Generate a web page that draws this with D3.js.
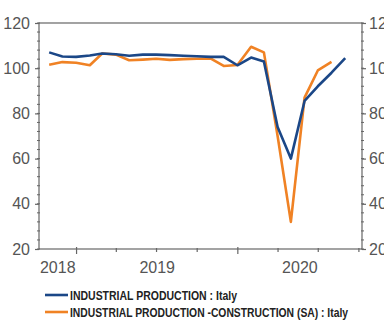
<!DOCTYPE html>
<html>
<head>
<meta charset="utf-8">
<script src="https://cdn.jsdelivr.net/npm/d3@7"></script>
<style>
  body { margin: 0; background: #fff; }
  text { font-family: "Liberation Sans Narrow", "Liberation Sans", Arial, sans-serif; }
</style>
</head>
<body>
<div id="chart"></div>
<script>
// monthly series, plotted at month end
const months = ["2018-10","2018-11","2018-12","2019-01","2019-02","2019-03","2019-04","2019-05",
  "2019-06","2019-07","2019-08","2019-09","2019-10","2019-11","2019-12","2020-01","2020-02",
  "2020-03","2020-04","2020-05","2020-06","2020-07","2020-08"]
const industrial = [107, 105.2, 105, 105.6, 106.5, 106.2, 105.5, 106, 106, 105.8, 105.5, 105.3,
  105, 105, 101.3, 104.7, 103, 74, 60, 85.5, 92, 98, 104.5]
const construction = [101.5, 102.7, 102.4, 101.3, 106.5, 106, 103.5, 103.8, 104.2, 103.7, 104, 104.2,
  104.3, 101, 101.4, 109.5, 107, 70, 32, 87, 99, 102.8]
const yTicks = [20, 40, 60, 80, 100, 120]
const legendLabels = ["INDUSTRIAL PRODUCTION : Italy", "INDUSTRIAL PRODUCTION -CONSTRUCTION (SA) : Italy"]
const colors = ["#1b4787", "#f08224"]

const width = 384, height = 320
const margin = { left: 39, top: 23, right: 22, bottom: 71 }

const parse = d3.timeParse("%Y-%m")
const monthEnd = m => d3.timeDay.offset(d3.timeMonth.offset(parse(m), 1), -1)
const dates = months.map(monthEnd)

const x = d3.scaleTime()
  .domain([new Date(2018, 9, 8), new Date(2020, 9, 8)])
  .range([margin.left, width - margin.right])
const y = d3.scaleLinear()
  .domain([20, 120])
  .range([height - margin.bottom, margin.top])

const svg = d3.select("#chart").append("svg")
  .attr("width", width).attr("height", height)

const axisColor = "#666"
const labelColor = "#555"
const x0 = x.range()[0], x1 = x.range()[1]
const yb = y.range()[0], yt = y.range()[1]

// frame
svg.append("rect")
  .attr("x", x0).attr("y", yt)
  .attr("width", x1 - x0).attr("height", yb - yt)
  .attr("fill", "none").attr("stroke", axisColor).attr("stroke-width", 1.2)

// y minor ticks, both sides
const yMinor = d3.range(20, 120.1, 4)
svg.append("g").selectAll("line").data(yMinor).join("line")
  .attr("x1", x0 - 2).attr("x2", x0 + 1)
  .attr("y1", d => y(d)).attr("y2", d => y(d))
  .attr("stroke", axisColor)
svg.append("g").selectAll("line").data(yMinor).join("line")
  .attr("x1", x1 - 1).attr("x2", x1 + 2)
  .attr("y1", d => y(d)).attr("y2", d => y(d))
  .attr("stroke", axisColor)

// y axes (left and right), right labels run off the edge as in the source
const leftAxis = d3.axisLeft(y).tickValues(yTicks).tickSize(4).tickPadding(5)
const rightAxis = d3.axisRight(y).tickValues(yTicks).tickSize(4).tickPadding(3)
const gl = svg.append("g").attr("transform", `translate(${x0},0)`).call(leftAxis)
const gr = svg.append("g").attr("transform", `translate(${x1},0)`).call(rightAxis)
;[gl, gr].forEach(g => {
  g.select(".domain").remove()
  g.selectAll(".tick line").attr("stroke", axisColor).attr("stroke-width", 1.2)
  g.selectAll(".tick text").attr("fill", labelColor).style("font-size", "16px")
})

// x ticks: quarterly minor, yearly major
const quarters = d3.timeMonth.every(3).range(x.domain()[0], x.domain()[1])
svg.append("g").selectAll("line").data(quarters).join("line")
  .attr("x1", d => x(d)).attr("x2", d => x(d))
  .attr("y1", d => d.getMonth() === 0 ? yb - 2 : yb - 1)
  .attr("y2", d => d.getMonth() === 0 ? yb + 5 : yb + 3)
  .attr("stroke", axisColor).attr("stroke-width", 1.2)

// year labels centred in the visible part of each year
const years = [2018, 2019, 2020]
svg.append("g").selectAll("text").data(years).join("text")
  .attr("x", yr => {
    const a = Math.max(x0, x(new Date(yr, 0, 1)))
    const b = Math.min(x1, x(new Date(yr + 1, 0, 1)))
    return (a + b) / 2
  })
  .attr("y", yb + 24)
  .attr("text-anchor", "middle")
  .attr("fill", labelColor)
  .style("font-size", "16px")
  .text(d => d)

// lines
const line = d3.line()
  .x((d, i) => x(dates[i]))
  .y(d => y(d))
;[construction, industrial].forEach((s, k) => {
  svg.append("path")
    .datum(s)
    .attr("fill", "none")
    .attr("stroke", k === 0 ? colors[1] : colors[0])
    .attr("stroke-width", 2.6)
    .attr("stroke-linejoin", "round")
    .attr("d", line)
})

// legend
const legend = svg.append("g")
const legendY = [295, 312]
const legendW = [167, 278]
legendLabels.forEach((t, i) => {
  legend.append("line")
    .attr("x1", 45).attr("x2", 68)
    .attr("y1", legendY[i]).attr("y2", legendY[i])
    .attr("stroke", colors[i]).attr("stroke-width", 2.6)
  legend.append("text")
    .attr("x", 70).attr("y", legendY[i] + 5)
    .attr("fill", "#222")
    .style("font-size", "12.5px")
    .style("font-weight", "bold")
    .attr("textLength", legendW[i])
    .attr("lengthAdjust", "spacingAndGlyphs")
    .text(t)
})
</script>
</body>
</html>
